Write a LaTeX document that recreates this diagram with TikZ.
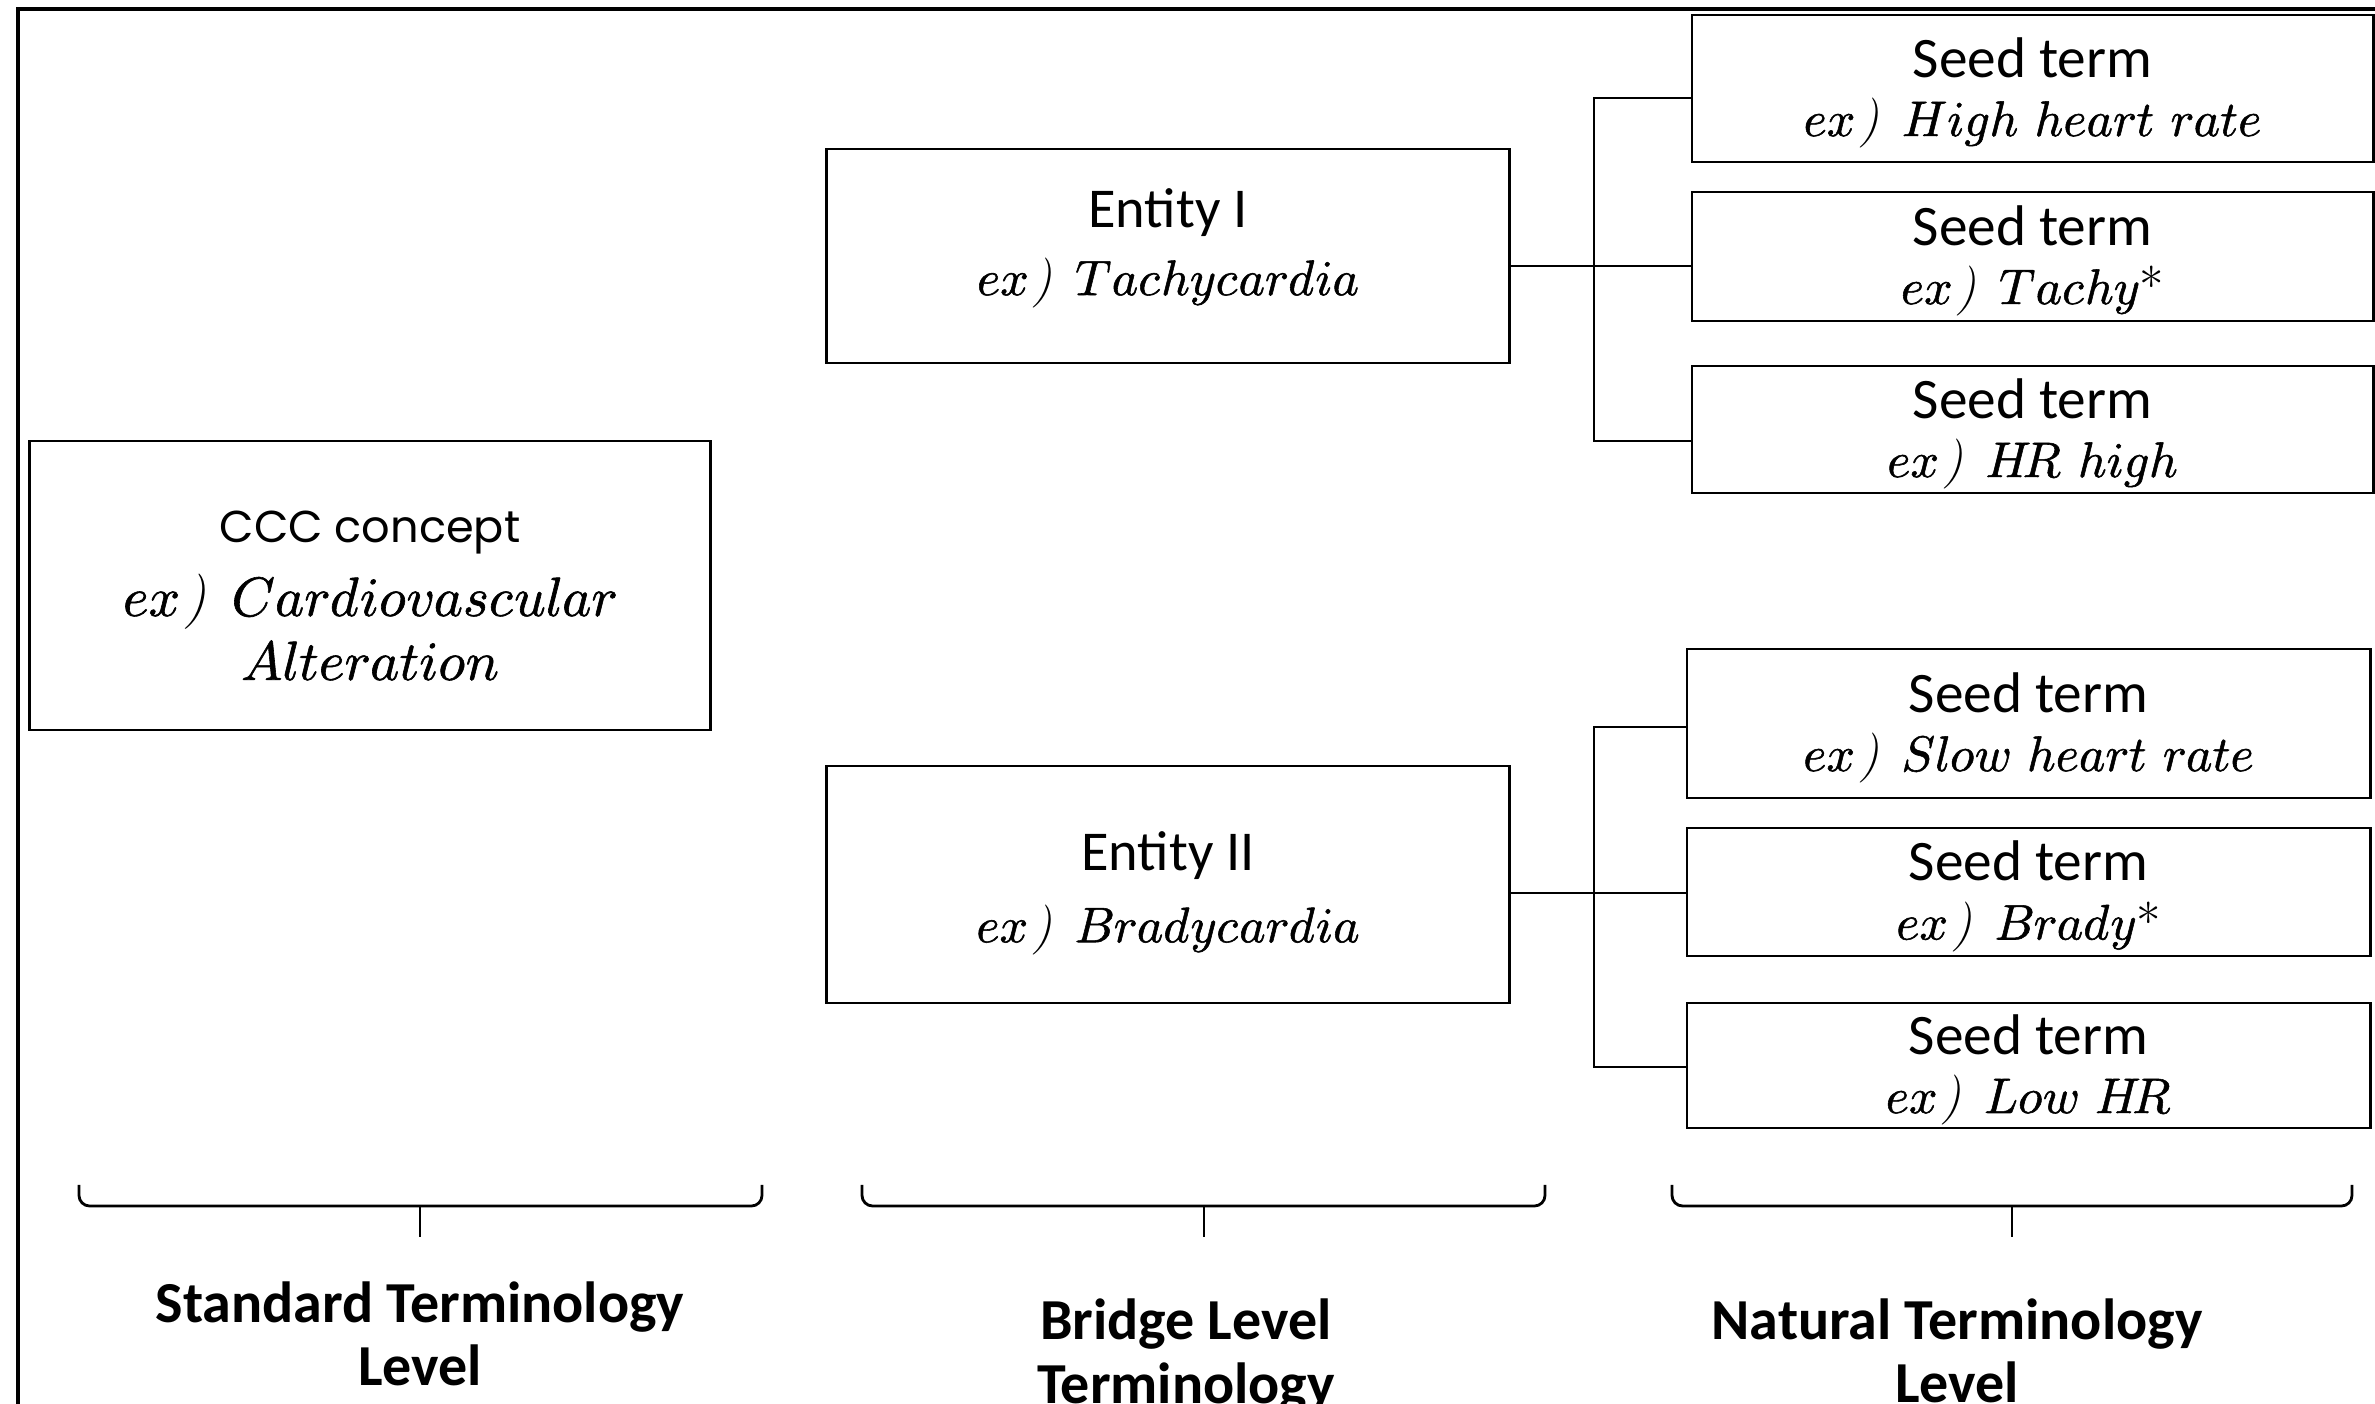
\documentclass[tikz,border=0pt]{standalone}
\usepackage{fontspec}
\usepackage{unicode-math}
\setmathfont{Latin Modern Math}[FakeBold=1.1]
\newfontfamily\carlito{Carlito}
\newfontfamily\popfont{Poppins}
\begin{document}
\begin{tikzpicture}[x=0.01cm,y=-0.01cm,
  box/.style={draw, line width=0.75pt, inner sep=0pt},
  seedbox/.style={box, minimum width=6.81cm},
  boxtext/.style={align=center, inner sep=0pt,
    font=\fontsize{14.2}{16.7}\selectfont},
  conn/.style={line width=0.75pt},
  bracepath/.style={line width=0.8pt, rounded corners=3pt},
  levellabel/.style={align=center, inner sep=0pt,
    font=\carlito\bfseries\fontsize{16.5}{18}\selectfont}]
\newcommand\sterm{{\carlito\fontsize{16.3}{16.7}\selectfont Seed term}}
\newcommand\exof{e x\kern0.08em\textit{)}\kern0.45em}
\useasboundingbox (0,0) rectangle (2375,1404);
% outer frame (top and left edges visible)
\draw[line width=0.9pt] (2380,9) -- (18,9) -- (18,1410);

% standard level
\node[box, minimum width=6.8cm, minimum height=2.89cm] (ccc) at (370,585.5) {};
\node[boxtext, font=\fontsize{15.7}{18.2}\selectfont] (ccct) at (370,595.5)
  {{\popfont\fontsize{12.7}{18.2}\selectfont CCC concept}\\[2.8pt]
   $\exof Cardiovascular$\\
   $Alteration$};

% bridge level
\node[box, minimum width=6.82cm, minimum height=2.14cm] (e1) at (1168,256) {};
\node[boxtext, font=\fontsize{14.2}{19.3}\selectfont] (e1t) at (1168,248)
  {{\carlito\fontsize{16}{19.3}\selectfont Entity I}\\ $\exof Tachycardia$};
\node[box, minimum width=6.82cm, minimum height=2.37cm] (e2) at (1168,884.5) {};
\node[boxtext, font=\fontsize{14.2}{19.3}\selectfont] (e2t) at (1168,893)
  {{\carlito\fontsize{16}{19.3}\selectfont Entity II}\\[1.2pt] $\exof Bradycardia$};

% natural level
\node[seedbox, minimum height=1.47cm] (s1) at (2032.5,88.5) {};
\node[boxtext] (s1t) at (2032.5,93) {\sterm\\ $\exof High\ heart\ rate$};
\node[seedbox, minimum height=1.29cm] (s2) at (2032.5,256.5) {};
\node[boxtext] (s2t) at (2032.5,261) {\sterm\\ $\exof Tachy$*};
\node[seedbox, minimum height=1.27cm] (s3) at (2032.5,429.5) {};
\node[boxtext] (s3t) at (2032.5,434) {\sterm\\ $\exof H\!R\ high$};
\node[seedbox, minimum width=6.83cm, minimum height=1.49cm] (s4) at (2028.5,723.5) {};
\node[boxtext] (s4t) at (2028.5,728) {\sterm\\ $\exof Slow\ heart\ rate$};
\node[seedbox, minimum width=6.83cm, minimum height=1.28cm] (s5) at (2028.5,892) {};
\node[boxtext] (s5t) at (2028.5,896.5) {\sterm\\ $\exof Brady$*};
\node[seedbox, minimum width=6.83cm, minimum height=1.25cm] (s6) at (2028.5,1065.5) {};
\node[boxtext] (s6t) at (2028.5,1070) {\sterm\\ $\exof Low\ H\!R$};

% connectors
\coordinate (t1) at (1594,266);
\coordinate (b1) at (1594,98);
\coordinate (b3) at (1594,441);
\draw[conn] (e1.east |- t1) -- (t1) -- (t1 -| s2.west);
\draw[conn] (b1 -| s1.west) -- (b1) -- (b3) -- (b3 -| s3.west);

\coordinate (t2) at (1594,893);
\coordinate (b4) at (1594,727);
\coordinate (b6) at (1594,1067);
\draw[conn] (e2.east |- t2) -- (t2) -- (t2 -| s5.west);
\draw[conn] (b4 -| s4.west) -- (b4) -- (b6) -- (b6 -| s6.west);

% braces
\foreach \l/\c/\r in {79/420/762, 862/1204/1545, 1672/2012/2352}{
  \draw[bracepath] (\l,1185) |- (\r,1206) -- (\r,1185);
  \draw[line width=0.8pt] (\c,1206) -- (\c,1237);
}

% level labels
\node[levellabel] (lab1) at (420,1334) {Standard Terminology\\Level};
\node[levellabel] (lab2) at (1186,1356) {Bridge Level\\Terminology};
\node[levellabel] (lab3) at (1957,1351) {Natural Terminology\\Level};
\end{tikzpicture}
\end{document}
